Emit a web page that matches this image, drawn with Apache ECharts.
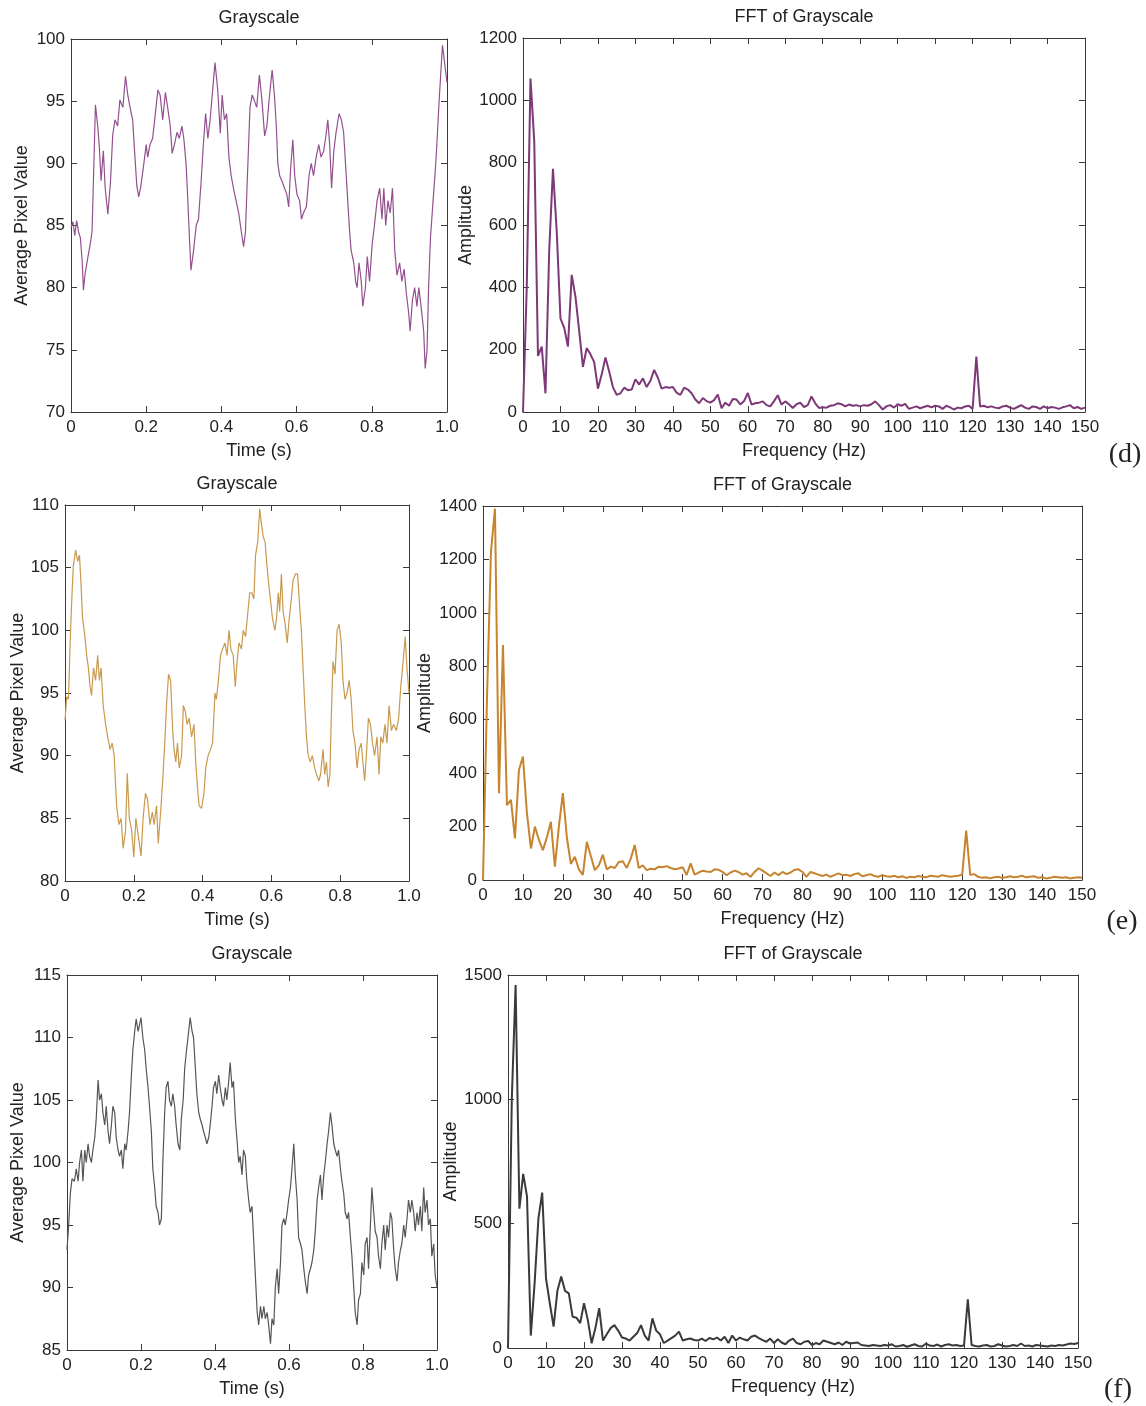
<!DOCTYPE html>
<html>
<head>
<meta charset="utf-8">
<title>Grayscale signals and spectra</title>
<script src="https://cdn.jsdelivr.net/npm/echarts@6.0.0/dist/echarts.min.js"></script>
<style>
  html, body { margin: 0; padding: 0; background: #ffffff; }
  #chart { width: 1146px; height: 1406px; }
</style>
</head>
<body>
<div id="chart"></div>
<script>
// ---- Average pixel value over one second, [time (s), value] ----
const grayD = [[0,84.8],[0.005,85.3],[0.01,84.2],[0.015,85.4],[0.02,84.5],[0.025,84],[0.03,82],[0.033,79.8],[0.037,81],[0.044,82.3],[0.05,83.3],[0.056,84.5],[0.06,89],[0.065,94.7],[0.071,93],[0.075,91.5],[0.08,88.6],[0.086,91],[0.091,88],[0.098,85.9],[0.105,88.5],[0.111,92.3],[0.117,93.5],[0.124,93],[0.13,95.1],[0.138,94.5],[0.145,97],[0.151,95.5],[0.157,94.5],[0.164,93.5],[0.169,91],[0.175,88.2],[0.18,87.3],[0.185,88],[0.193,89.8],[0.2,91.5],[0.204,90.5],[0.21,91.5],[0.217,92],[0.224,93.9],[0.231,95.9],[0.237,95.5],[0.244,93.5],[0.251,95.7],[0.257,94.5],[0.264,93],[0.269,90.8],[0.275,91.5],[0.282,92.5],[0.288,92],[0.295,93],[0.3,92],[0.306,90],[0.31,87.5],[0.315,84],[0.319,81.4],[0.326,83],[0.333,85],[0.339,85.5],[0.346,88.5],[0.352,91.5],[0.358,94],[0.364,92],[0.37,93.5],[0.377,96],[0.383,98.1],[0.39,96],[0.397,92.4],[0.402,95.5],[0.408,93.5],[0.414,94],[0.42,90.5],[0.426,89],[0.432,88],[0.439,87],[0.446,86],[0.453,84.5],[0.459,83.3],[0.464,84.5],[0.468,88],[0.473,92],[0.476,94.5],[0.482,95.5],[0.488,95],[0.494,94.5],[0.501,97.1],[0.508,95],[0.515,92.2],[0.521,93],[0.528,95.5],[0.535,97.5],[0.541,95.5],[0.546,93],[0.55,90],[0.555,89],[0.562,88.5],[0.568,88],[0.574,87.5],[0.579,86.5],[0.584,89.5],[0.59,91.9],[0.595,89],[0.601,87.5],[0.608,87],[0.613,85.5],[0.618,86],[0.626,86.5],[0.633,89],[0.639,90],[0.645,89],[0.652,90.5],[0.659,91.5],[0.665,90.5],[0.672,91],[0.677,92],[0.683,93.5],[0.688,91.5],[0.693,88],[0.699,91],[0.705,92.5],[0.713,94],[0.719,93.5],[0.725,92.5],[0.73,90],[0.736,87],[0.741,84.5],[0.745,83],[0.752,82],[0.757,80.5],[0.761,80],[0.766,82],[0.772,80.5],[0.776,78.5],[0.783,80],[0.788,82.5],[0.794,80.5],[0.801,83.5],[0.807,85],[0.814,87],[0.821,88],[0.827,85.5],[0.832,88],[0.837,85],[0.843,87],[0.849,86],[0.855,88],[0.861,83],[0.867,81],[0.874,82],[0.88,80.5],[0.886,81.5],[0.892,79.5],[0.898,78],[0.902,76.5],[0.908,79],[0.914,80],[0.92,78.5],[0.925,80],[0.931,78.5],[0.938,76.5],[0.942,73.5],[0.947,75],[0.951,80],[0.956,84],[0.963,87],[0.969,89.5],[0.973,91.5],[0.979,95],[0.983,97],[0.988,99.5],[0.994,98],[1,96.5]];

const grayE = [[0,92.8],[0.005,94.7],[0.01,94.5],[0.015,99],[0.019,102],[0.024,105.1],[0.031,106.4],[0.037,105.5],[0.042,106],[0.046,104],[0.051,101],[0.058,99.5],[0.063,98],[0.068,97],[0.073,95.5],[0.077,94.8],[0.083,97],[0.089,96],[0.095,98],[0.1,96],[0.105,97],[0.111,94],[0.118,92.5],[0.124,91.5],[0.131,90.5],[0.137,91],[0.143,90],[0.15,86],[0.157,84.5],[0.163,85],[0.169,82.6],[0.176,84],[0.181,88.6],[0.187,85],[0.194,84],[0.2,81.9],[0.206,85],[0.211,84],[0.216,83],[0.221,82],[0.227,85],[0.234,87],[0.24,86.5],[0.247,84.5],[0.254,85.5],[0.259,84.5],[0.266,86],[0.271,83],[0.278,85.5],[0.284,88],[0.29,91],[0.295,94],[0.301,96.5],[0.307,96],[0.313,92],[0.317,90.5],[0.322,89.5],[0.327,91],[0.332,89],[0.339,90],[0.344,94],[0.35,93.5],[0.355,92.5],[0.361,93],[0.368,91.5],[0.375,92.5],[0.38,89.5],[0.385,87.5],[0.39,86],[0.397,85.8],[0.404,87],[0.409,89],[0.416,90],[0.423,90.5],[0.429,91],[0.436,95],[0.44,94.5],[0.446,96],[0.452,98],[0.458,98.5],[0.465,99],[0.471,98],[0.477,100],[0.482,98.5],[0.489,98],[0.495,95.5],[0.5,97.5],[0.506,99],[0.513,98.5],[0.518,100],[0.525,99.5],[0.53,101],[0.537,103],[0.543,103],[0.549,102.5],[0.554,106],[0.56,107],[0.566,109.7],[0.571,108.5],[0.576,107.5],[0.582,107],[0.586,105.5],[0.591,104],[0.597,102.5],[0.603,101],[0.61,100],[0.615,101],[0.62,103],[0.624,101.5],[0.629,104.5],[0.634,101.5],[0.64,100.5],[0.646,99],[0.652,101],[0.658,102.5],[0.663,104],[0.67,104.5],[0.676,104.5],[0.682,102],[0.687,100],[0.692,97],[0.697,94],[0.702,91.5],[0.707,90],[0.713,89.5],[0.719,90],[0.726,89],[0.731,88.5],[0.738,88],[0.743,88.5],[0.75,90.5],[0.755,88.5],[0.76,89.5],[0.765,87.5],[0.77,88.5],[0.774,93],[0.779,97.5],[0.785,96.5],[0.791,100],[0.797,100.5],[0.803,99],[0.808,96],[0.814,94.5],[0.82,95],[0.826,96],[0.832,94.5],[0.837,92],[0.843,91],[0.849,89],[0.855,90.5],[0.861,91],[0.866,89.5],[0.871,88],[0.876,90],[0.882,93],[0.888,92.5],[0.894,91],[0.9,90],[0.907,91.5],[0.913,88.5],[0.918,91.5],[0.924,91],[0.93,92.5],[0.936,91],[0.942,94],[0.949,92],[0.955,92.5],[0.963,92],[0.97,93],[0.976,95.5],[0.983,97.5],[0.989,99.5],[0.994,97],[1,95]];

const grayF = [[0,93],[0.0045,95],[0.009,97.5],[0.0135,98.7],[0.02,98.5],[0.025,99.5],[0.03,98.5],[0.034,100],[0.039,101],[0.043,98.5],[0.048,101],[0.052,100],[0.057,101.5],[0.061,100.5],[0.066,100],[0.07,101],[0.075,102],[0.079,103.5],[0.084,106.6],[0.088,105],[0.093,105.5],[0.097,104],[0.102,103],[0.106,104.5],[0.111,102.5],[0.115,101.5],[0.12,103],[0.124,104.5],[0.129,104],[0.133,102],[0.138,101],[0.142,100.5],[0.147,101],[0.151,99.5],[0.156,101.5],[0.16,101],[0.165,102.5],[0.169,104],[0.174,107],[0.178,109],[0.183,110.5],[0.187,111.5],[0.192,110.5],[0.196,111],[0.2,111.6],[0.205,110],[0.21,109],[0.214,107.5],[0.219,106],[0.223,104.5],[0.228,102.5],[0.232,99.5],[0.237,98],[0.241,96.5],[0.246,96],[0.25,95],[0.255,95.5],[0.259,100],[0.264,104],[0.268,106],[0.273,106.5],[0.277,105],[0.282,104.5],[0.286,105.5],[0.291,104.5],[0.295,103],[0.3,101.5],[0.305,101],[0.309,103.5],[0.314,105],[0.318,107.5],[0.323,109],[0.327,110],[0.333,111.6],[0.338,110.5],[0.342,110],[0.347,107.5],[0.351,105.5],[0.356,104],[0.36,103.5],[0.365,103],[0.369,102.5],[0.374,102],[0.378,101.5],[0.383,102],[0.387,103],[0.392,104.5],[0.396,106],[0.401,106.5],[0.405,105.5],[0.41,107],[0.414,106],[0.419,105],[0.423,104.5],[0.428,106],[0.432,105],[0.437,106.5],[0.441,108],[0.446,106],[0.45,106.5],[0.455,103.5],[0.459,102],[0.464,100],[0.468,100.5],[0.473,99],[0.477,101],[0.482,100.5],[0.486,98.5],[0.491,97],[0.495,96],[0.5,96.5],[0.505,93.5],[0.509,91],[0.514,88],[0.518,87],[0.523,88.5],[0.527,87.5],[0.532,88.5],[0.536,87.5],[0.541,88],[0.545,87],[0.55,85.5],[0.554,87.5],[0.559,87],[0.563,90],[0.568,91.5],[0.572,89.5],[0.577,92],[0.581,95],[0.586,95.5],[0.59,95],[0.595,96],[0.599,97],[0.604,98],[0.608,99.5],[0.613,101.5],[0.617,99],[0.622,97],[0.626,94],[0.631,93.5],[0.635,93],[0.64,91.5],[0.644,90.5],[0.649,89.5],[0.653,91],[0.658,91.5],[0.662,92],[0.667,93],[0.671,94.5],[0.676,97],[0.68,98],[0.685,99],[0.689,97],[0.694,99],[0.698,100],[0.703,101.5],[0.707,102.5],[0.712,104],[0.716,103],[0.721,101.5],[0.725,101],[0.73,100.5],[0.734,101],[0.739,99.5],[0.743,98.5],[0.748,97.5],[0.752,96],[0.757,95.5],[0.761,96],[0.766,94],[0.77,92.5],[0.775,90],[0.779,88],[0.784,87],[0.788,89],[0.793,89.5],[0.797,92],[0.802,91],[0.806,93.5],[0.811,94],[0.815,91.5],[0.82,95],[0.824,98],[0.829,96],[0.833,94.5],[0.838,94],[0.842,92.5],[0.847,91.5],[0.851,93.5],[0.856,95],[0.86,93],[0.865,95],[0.869,94],[0.874,96],[0.878,95.5],[0.883,93],[0.887,91.5],[0.892,90.5],[0.896,92],[0.901,93],[0.905,93.5],[0.91,95],[0.914,94],[0.919,95.5],[0.923,97],[0.928,96],[0.932,97],[0.937,96],[0.941,94.5],[0.946,96],[0.95,95],[0.955,96.5],[0.959,94.5],[0.964,98],[0.968,96],[0.973,97],[0.977,95],[0.982,95.5],[0.986,92.5],[0.991,93.5],[0.995,91],[1,90]];

// ---- FFT amplitude, one value per 1 Hz bin from 0 to 150 Hz ----
const fftD = [0,400,1070,870,180,210,60,520,780,580,300,270,210,440,370,260,145,205,185,160,75,120,175,130,80,55,60,78,70,72,105,88,108,80,100,135,110,75,80,78,80,62,55,78,72,60,40,28,45,35,30,38,56,12,30,20,42,40,24,35,61,24,28,30,34,22,18,35,54,24,34,25,13,25,30,16,22,50,28,13,15,14,20,22,28,25,18,24,20,22,18,22,20,25,34,22,8,18,22,14,25,20,26,10,14,18,12,16,20,15,20,18,10,20,15,8,14,12,18,20,10,178,18,20,15,18,14,12,18,20,14,10,16,22,14,10,18,16,10,18,12,16,14,10,15,18,22,12,16,10,14];

const fftE = [0,680,1230,1390,325,880,280,300,156,412,462,250,118,200,150,112,160,218,50,200,325,160,60,87,40,19,143,90,37,55,94,40,50,45,67,70,45,80,131,45,55,37,42,40,50,48,52,45,40,43,48,19,62,20,28,35,32,30,40,38,30,18,28,35,30,20,25,12,30,44,35,25,15,28,18,30,22,28,38,40,30,12,30,25,20,15,20,12,18,25,18,20,15,22,25,14,18,22,15,12,18,14,12,16,10,14,8,12,10,15,12,10,16,14,12,18,15,12,14,16,20,185,20,22,12,8,10,6,10,12,8,10,14,10,12,16,10,12,14,8,10,6,8,12,10,8,10,6,8,10,8];

const fftF = [0,1000,1460,560,700,610,50,260,520,625,280,180,86,230,287,230,220,126,122,100,180,113,19,80,160,30,55,80,92,70,42,38,30,45,60,92,50,30,119,70,55,20,30,40,50,66,30,35,38,32,30,38,28,40,35,42,30,45,20,50,30,42,35,30,45,50,40,32,25,38,20,35,22,15,30,38,20,15,25,28,12,20,15,30,25,20,15,22,12,25,18,20,22,12,10,8,12,10,8,12,10,15,6,8,12,5,10,15,8,6,18,10,8,14,6,12,15,10,12,8,10,196,12,8,6,10,12,6,8,15,10,6,8,12,8,18,8,10,6,12,10,8,6,10,8,12,10,14,18,16,20];

// ---- Axis ranges and tick steps ----
const timeTicks = { min: 0, max: 1, step: 0.2 };
const freqTicks = { min: 0, max: 150, step: 10 };
const pixelRanges = [ { min: 70, max: 100, step: 5 }, { min: 80, max: 110, step: 5 }, { min: 85, max: 115, step: 5 } ];
const ampRanges = [ { min: 0, max: 1200, step: 200 }, { min: 0, max: 1400, step: 200 }, { min: 0, max: 1500, step: 500 } ];
const panelTags = ['(d)', '(e)', '(f)'];

const FONT = '"Liberation Sans", Arial, Helvetica, sans-serif';
const INK = '#222222';
const FRAME = '#3a3a3a';

const withBins = arr => arr.map((v, i) => [i, v]);

// Layout of the six plot boxes and styling of each trace
const panels = [
  { box: { left: 71, top: 39, width: 376, height: 373 }, title: 'Grayscale', xr: timeTicks, yr: pixelRanges[0],
    data: grayD, color: '#93508f', lw: 1.2, xName: 'Time (s)', yName: 'Average Pixel Value', yGap: 40 },
  { box: { left: 523, top: 38, width: 562, height: 374 }, title: 'FFT of Grayscale', xr: freqTicks, yr: ampRanges[0],
    data: withBins(fftD), color: '#7d3877', lw: 2, xName: 'Frequency (Hz)', yName: 'Amplitude', yGap: 48 },
  { box: { left: 65, top: 505, width: 344, height: 376 }, title: 'Grayscale', xr: timeTicks, yr: pixelRanges[1],
    data: grayE, color: '#c99a4e', lw: 1.2, xName: 'Time (s)', yName: 'Average Pixel Value', yGap: 38 },
  { box: { left: 483, top: 506, width: 599, height: 374 }, title: 'FFT of Grayscale', xr: freqTicks, yr: ampRanges[1],
    data: withBins(fftE), color: '#c7842e', lw: 2, xName: 'Frequency (Hz)', yName: 'Amplitude', yGap: 49 },
  { box: { left: 67, top: 975, width: 370, height: 375 }, title: 'Grayscale', xr: timeTicks, yr: pixelRanges[2],
    data: grayF, color: '#555555', lw: 1.2, xName: 'Time (s)', yName: 'Average Pixel Value', yGap: 40 },
  { box: { left: 508, top: 975, width: 570, height: 373 }, title: 'FFT of Grayscale', xr: freqTicks, yr: ampRanges[2],
    data: withBins(fftF), color: '#3a3a3a', lw: 2, xName: 'Frequency (Hz)', yName: 'Amplitude', yGap: 48 }
];

const timeLabel = v => (v === 0 ? '0' : v.toFixed(1));
const plainLabel = v => String(v);

function baseAxis(r, pos) {
  return {
    type: 'value', min: r.min, max: r.max, interval: r.step, position: pos,
    splitLine: { show: false },
    axisLine: { show: true, onZero: false, lineStyle: { color: FRAME, width: 1 } },
    axisTick: { show: true, inside: true, length: 6, lineStyle: { color: FRAME, width: 1 } }
  };
}

const grid = [], xAxis = [], yAxis = [], series = [], graphic = [];

panels.forEach((p, i) => {
  grid.push(Object.assign({ containLabel: false }, p.box));

  const bx = baseAxis(p.xr, 'bottom');
  bx.gridIndex = i;
  bx.axisLabel = { color: INK, fontSize: 17, fontFamily: FONT, margin: 7, showMinLabel: true, showMaxLabel: true,
                   formatter: p.xr === timeTicks ? timeLabel : plainLabel };
  bx.name = p.xName; bx.nameLocation = 'middle'; bx.nameGap = 30; bx.nameMoveOverlap = false;
  bx.nameTextStyle = { color: INK, fontSize: 18, fontFamily: FONT };
  xAxis.push(bx);
  const tx = baseAxis(p.xr, 'top');
  tx.gridIndex = i; tx.axisLabel = { show: false };
  xAxis.push(tx);

  const ly = baseAxis(p.yr, 'left');
  ly.gridIndex = i;
  ly.axisLabel = { color: INK, fontSize: 17, fontFamily: FONT, margin: 6, showMinLabel: true, showMaxLabel: true,
                   formatter: plainLabel };
  ly.name = p.yName; ly.nameLocation = 'middle'; ly.nameGap = p.yGap; ly.nameMoveOverlap = false;
  ly.nameTextStyle = { color: INK, fontSize: 18, fontFamily: FONT };
  yAxis.push(ly);
  const ry = baseAxis(p.yr, 'right');
  ry.gridIndex = i; ry.axisLabel = { show: false };
  yAxis.push(ry);

  series.push({
    type: 'line', xAxisIndex: 2 * i, yAxisIndex: 2 * i, data: p.data,
    showSymbol: false, symbol: 'none', smooth: false, clip: true,
    lineStyle: { color: p.color, width: p.lw }, z: 3
  });

  graphic.push({
    type: 'text', x: p.box.left + p.box.width / 2, y: p.box.top - 21,
    style: { text: p.title, font: '18px ' + FONT, fill: INK, textAlign: 'center', textVerticalAlign: 'middle',
             align: 'center', verticalAlign: 'middle' }
  });
});

// Sub-figure tags to the right of each row
[[1125, 455], [1122, 922], [1118, 1390]].forEach((xy, k) => {
  graphic.push({
    type: 'text', x: xy[0], y: xy[1],
    style: { text: panelTags[k], font: '28px "Liberation Serif", "DejaVu Serif", serif', fill: '#222',
             textAlign: 'center', textVerticalAlign: 'middle', align: 'center', verticalAlign: 'middle' }
  });
});

const chart = echarts.init(document.getElementById('chart'), null, { renderer: 'canvas' });
chart.setOption({
  backgroundColor: '#ffffff',
  animation: false,
  grid, xAxis, yAxis, series, graphic
});
</script>
</body>
</html>
